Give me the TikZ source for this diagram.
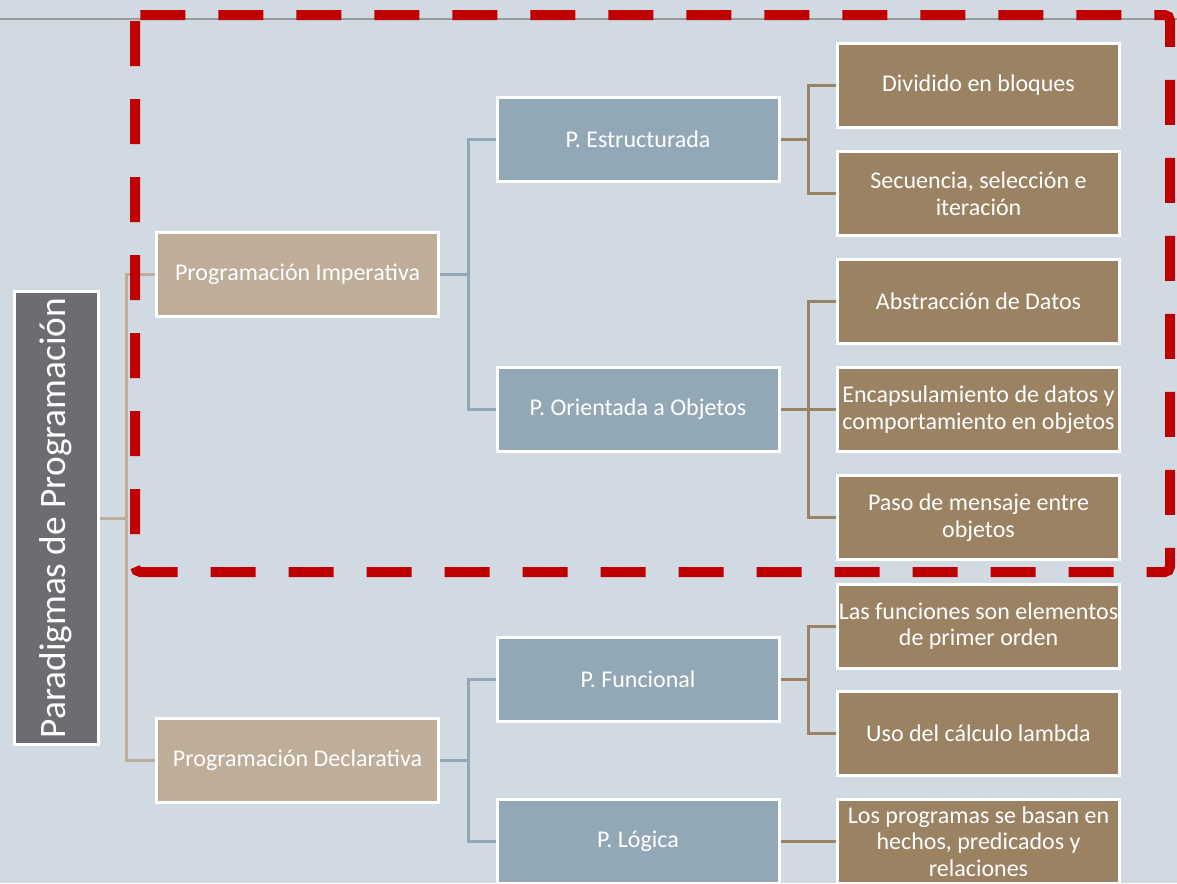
\documentclass[tikz,border=0pt]{standalone}
\usepackage{fontspec}
\setmainfont{Carlito}
\definecolor{bg}{HTML}{D1DAE2}
\definecolor{rootc}{HTML}{6D6C72}
\definecolor{lvla}{HTML}{BEAD98}
\definecolor{lvlb}{HTML}{92A8B7}
\definecolor{lvlc}{HTML}{9B8263}
\definecolor{redd}{HTML}{C00000}
\definecolor{topline}{HTML}{9A9A9A}
\begin{document}
\begin{tikzpicture}[x=0.75pt,y=-0.75pt,
  box/.style={draw=white, line width=2.25pt, minimum width=211.5pt, minimum height=63pt,
    text=white, font=\fontsize{18}{20}\selectfont, align=center, inner sep=0pt},
  boxa/.style={box, fill=lvla},
  boxb/.style={box, fill=lvlb},
  boxc/.style={box, fill=lvlc},
  conn/.style={line width=2.25pt},
]
\clip (0,0) rectangle (1177,883);
\fill[bg] (0,0) rectangle (1177,883);
\draw[topline, line width=1.5pt] (0,19) -- (1177,19);

% root
\node[box, fill=rootc, minimum width=63pt, minimum height=339.75pt, font=\fontsize{28}{30}\selectfont]
  (root) at (56,518) {\rotatebox{90}{Paradigmas de Programación}};

% level 1
\node[boxa] (imp) at (297.5,274.5) {Programación Imperativa};
\node[boxa] (dec) at (297.5,760.5) {Programación Declarativa};

% level 2
\node[boxb] (est) at (638,139.5) {P. Estructurada};
\node[boxb] (poo) at (638,409.5) {P. Orientada a Objetos};
\node[boxb] (fun) at (638,679.5) {P. Funcional};
\node[boxb] (log) at (638,841.5) {P. Lógica};

% leaves
\node[boxc] (l1) at (978.5,85.5) {Dividido en bloques};
\node[boxc] (l2) at (978.5,193.5) {Secuencia, selección e\\iteración};
\node[boxc] (l3) at (978.5,301.5) {Abstracción de Datos};
\node[boxc] (l4) at (978.5,409.5) {Encapsulamiento de datos y\\comportamiento en objetos};
\node[boxc] (l5) at (978.5,517.5) {Paso de mensaje entre\\objetos};
\node[boxc] (l6) at (978.5,626) {Las funciones son elementos\\de primer orden};
\node[boxc] (l7) at (978.5,733.5) {Uso del cálculo lambda};
\node[boxc] (l8) at (978.5,841.5) {Los programas se basan en\\hechos, predicados y\\relaciones};

% connectors root -> level1
\begin{scope}[on background layer/.style={}]
\draw[conn, lvla] (root.east) -- ++(27,0) coordinate (ra);
\draw[conn, lvla] (ra) |- (imp.west);
\draw[conn, lvla] (ra) |- (dec.west);
% level1 -> level2
\draw[conn, lvlb] (imp.east) -- ++(28,0) coordinate (ia);
\draw[conn, lvlb] (ia) |- (est.west);
\draw[conn, lvlb] (ia) |- (poo.west);
\draw[conn, lvlb] (dec.east) -- ++(28,0) coordinate (da);
\draw[conn, lvlb] (da) |- (fun.west);
\draw[conn, lvlb] (da) |- (log.west);
% level2 -> leaves
\draw[conn, lvlc] (est.east) -- ++(28,0) coordinate (ea);
\draw[conn, lvlc] (ea) |- (l1.west);
\draw[conn, lvlc] (ea) |- (l2.west);
\draw[conn, lvlc] (poo.east) -- ++(28,0) coordinate (pa);
\draw[conn, lvlc] (pa) |- (l3.west);
\draw[conn, lvlc] (pa) |- (l4.west);
\draw[conn, lvlc] (pa) |- (l5.west);
\draw[conn, lvlc] (fun.east) -- ++(28,0) coordinate (fa);
\draw[conn, lvlc] (fa) |- (l6.west);
\draw[conn, lvlc] (fa) |- (l7.west);
\draw[conn, lvlc] (log.east) -- (l8.west);
\end{scope}

% red dashed outline
\coordinate (rtl) at (135,15);
\coordinate (rtr) at (1170,15);
\coordinate (rbr) at (1170,572);
\coordinate (rbl) at (135,572);
\draw[redd, line width=7.5pt, dash pattern=on 33.75pt off 24.75pt, rounded corners=4pt]
  (rtl) -- (rtr) -- (rbr) -- (rbl) -- cycle;
\end{tikzpicture}
\end{document}
